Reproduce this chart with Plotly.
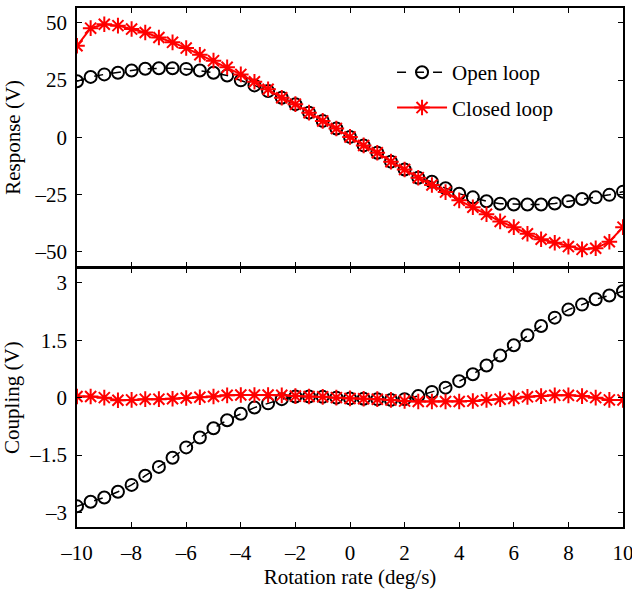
import plotly.graph_objects as go
from plotly.subplots import make_subplots

rate = [-10 + 0.5 * i for i in range(41)]

open_response = [24.5, 26.4, 27.5, 28.2, 29.2, 30.0, 30.2, 30.2, 29.9, 29.2, 28.2, 27.0, 24.9, 22.7,
                 20.2, 17.3, 14.5, 10.8, 7.2, 3.9, 0.2,
                 -3.5, -6.7, -10.6, -14.0, -17.6, -19.4, -22.2, -24.6, -26.2, -27.9, -29.0, -29.3,
                 -29.3, -29.3, -28.9, -27.9, -26.9, -26.2, -25.1, -23.7]
closed_response = [40.0, 47.7, 49.4, 48.8, 47.3, 45.8, 43.6, 41.5, 39.0, 36.1, 33.5, 30.6, 27.5, 24.3,
                   21.0, 17.3, 14.5, 10.8, 7.2, 3.9, 0.2,
                   -3.5, -6.7, -10.6, -14.0, -17.6, -20.8, -23.9, -27.5, -30.5, -33.6, -36.7, -39.2,
                   -42.1, -44.5, -46.0, -47.7, -48.9, -48.4, -45.6, -39.2]
open_coupling = [-2.84, -2.72, -2.61, -2.46, -2.28, -2.04, -1.81, -1.57, -1.30, -1.04, -0.80, -0.59,
                 -0.42, -0.26, -0.15, -0.04, 0.03, 0.03, 0.02, 0.0, -0.02,
                 -0.03, -0.04, -0.06, -0.04, 0.04, 0.15, 0.26, 0.43, 0.61, 0.84, 1.10, 1.37, 1.63,
                 1.87, 2.09, 2.30, 2.43, 2.57, 2.67, 2.78]
closed_coupling = [0.03, 0.03, 0.0, -0.07, -0.06, -0.04, -0.04, -0.03, -0.01, 0.01, 0.03, 0.06, 0.07,
                   0.07, 0.07, 0.06, 0.04, 0.03, 0.02, 0.0, -0.02,
                   -0.03, -0.04, -0.06, -0.09, -0.10, -0.10, -0.10, -0.10, -0.09, -0.06, -0.04,
                   -0.02, 0.02, 0.04, 0.06, 0.06, 0.04, 0.0, -0.06, -0.06]

x_ticks = [-10, -8, -6, -4, -2, 0, 2, 4, 6, 8, 10]
resp_ticks = [50, 25, 0, -25, -50]
coup_ticks = [3, 1.5, 0, -1.5, -3]


def lab(v):
    s = ("%g" % abs(v))
    return ("\u2013" + s) if v < 0 else s


FONT = "Liberation Serif"
FS = 21
PLOT_H = 519

fig = make_subplots(rows=2, cols=1, shared_xaxes=True, vertical_spacing=1.5 / PLOT_H)

open_style = dict(mode="lines+markers", line=dict(color="black", width=1.5, dash="dash"),
                  marker=dict(symbol="circle-open", size=12, color="black", line=dict(width=2)))
closed_style = dict(mode="lines+markers", line=dict(color="#ff0000", width=2),
                    marker=dict(symbol="asterisk-open", size=13, color="#ff0000", line=dict(width=2, color="#ff0000")))

fig.add_trace(go.Scatter(x=rate, y=open_response, name="Open loop", legendgroup="a", **open_style), row=1, col=1)
fig.add_trace(go.Scatter(x=rate, y=closed_response, name="Closed loop", legendgroup="b", **closed_style), row=1, col=1)
fig.add_trace(go.Scatter(x=rate, y=open_coupling, showlegend=False, **open_style), row=2, col=1)
fig.add_trace(go.Scatter(x=rate, y=closed_coupling, showlegend=False, **closed_style), row=2, col=1)

axis_common = dict(showline=True, linecolor="black", linewidth=1.5, mirror="allticks", ticks="inside",
                   ticklen=5, tickwidth=1, tickcolor="black", showgrid=False, zeroline=False,
                   automargin=False, tickfont=dict(family=FONT, size=FS, color="black"))
title_font = dict(family=FONT, size=FS, color="black")

fig.update_xaxes(range=[-10, 10], tickvals=x_ticks, ticktext=[lab(v) for v in x_ticks],
                 ticklabelstandoff=6, ticklabeloverflow="allow", **axis_common)
fig.update_xaxes(showticklabels=False, row=1, col=1)
fig.update_xaxes(title=dict(text="Rotation rate (deg/s)", font=title_font, standoff=2), row=2, col=1)
fig.update_yaxes(range=[-56.5, 56.5], tickvals=resp_ticks, ticktext=[lab(v) for v in resp_ticks],
                 title=dict(text="Response (V)", font=title_font, standoff=8), ticklabelstandoff=4,
                 row=1, col=1, **axis_common)
fig.update_yaxes(range=[-3.38, 3.38], tickvals=coup_ticks, ticktext=[lab(v) for v in coup_ticks],
                 title=dict(text="Coupling (V)", font=title_font, standoff=8), ticklabelstandoff=4,
                 row=2, col=1, **axis_common)

fig.update_layout(
    width=632, height=589,
    margin=dict(l=77, r=9, t=8, b=62),
    paper_bgcolor="white", plot_bgcolor="white",
    font=dict(family=FONT, size=FS, color="black"),
    legend=dict(x=0.577, y=0.915, xanchor="left", yanchor="top", bgcolor="rgba(0,0,0,0)",
                font=dict(family=FONT, size=FS, color="black"), tracegroupgap=5,
                traceorder="grouped", itemwidth=50),
)

fig.write_html("out.html", config={"displayModeBar": False},
               post_script="document.body.style.margin='0';")
